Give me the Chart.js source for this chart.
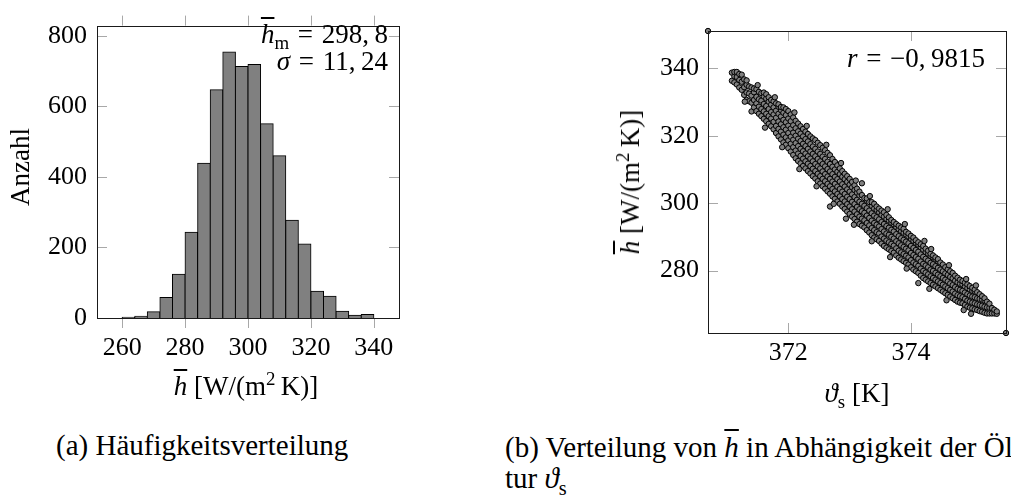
<!DOCTYPE html>
<html>
<head>
<meta charset="utf-8">
<script src="https://cdn.jsdelivr.net/npm/chart.js@4.4.1/dist/chart.umd.min.js"></script>
<style>
html,body{margin:0;padding:0;background:#fff;}
body{width:1011px;height:501px;overflow:hidden;position:relative;font-family:"Liberation Serif","Times New Roman",serif;color:#000;}
canvas{position:absolute;top:0;}
.t{position:absolute;white-space:nowrap;font-size:27px;line-height:30px;}
.an{word-spacing:2px;}
.c{transform:translate(-50%,-50%);}
.r90{transform:translate(-50%,-50%) rotate(-90deg);}
.ov{text-decoration:overline;text-decoration-thickness:1.5px;}
sup,sub{font-size:70%;line-height:0;}
.cap{position:absolute;white-space:nowrap;font-size:29px;line-height:34px;}
</style>
</head>
<body>
<canvas id="c1" width="480" height="410" style="left:0;width:480px;height:410px"></canvas>
<canvas id="c2" width="511" height="410" style="left:500px;width:511px;height:410px"></canvas>

<div class="t r90" style="left:20px;top:167px">Anzahl</div>
<div class="t c" style="left:246px;top:386px"><i class="ov">h</i>&nbsp;[W/(m<sup>2</sup>&thinsp;K)]</div>
<div class="t an" style="right:623px;top:19px"><i class="ov">h</i><sub>m</sub> = 298,&thinsp;8</div>
<div class="t an" style="right:623px;top:46px"><i>σ</i> = 11,&thinsp;24</div>

<div class="t r90" style="left:630px;top:182px"><i class="ov">h</i>&nbsp;[W/(m<sup>2</sup>&thinsp;K)]</div>
<div class="t c" style="left:857px;top:393px"><i>ϑ</i><sub>s</sub>&nbsp;[K]</div>
<div class="t an" style="right:26px;top:43px"><i>r</i> = −0,&thinsp;9815</div>

<div class="cap" style="left:56px;top:428px">(a) Häufigkeitsverteilung</div>
<div class="cap" style="left:505px;top:430px">(b) Verteilung von <i class="ov">h</i> in Abhängigkeit der Öl</div>
<div class="cap" style="left:505px;top:461px">tur <i>ϑ</i><sub>s</sub></div>

<script>
// ---- Histogram data (a) ----
const binCenters = [262,266,270,274,278,282,286,290,294,298,302,306,310,314,318,322,326,330,334,338];
const counts     = [2,5,18,58,124,243,439,647,754,713,719,551,460,277,210,76,62,19,8,10];
const histXTicks = [260,280,300,320,340];
const histYTicks = [0,200,400,600,800];

// ---- Scatter data (b): [theta_s, h values...] read column-wise from the picture ----
const scatterCols = [
[371.08, 336.3, 338.7],
[371.12, 335.8, 337.6, 338.9],
[371.16, 335.2, 337.4, 338.9],
[371.20, 334.3, 336.5, 338.3],
[371.24, 333.6, 336.0, 338.1],
[371.28, 332.1, 334.4, 336.7],
[371.32, 330.6, 332.8, 335.1, 336.4],
[371.36, 330.2, 332.5, 334.6],
[371.40, 327.2, 329.8, 331.9, 334.3],
[371.44, 328.4, 330.6, 332.9, 334.0],
[371.48, 327.3, 329.6, 331.5, 333.8],
[371.52, 326.5, 328.6, 330.8, 333.0],
[371.56, 325.8, 327.9, 330.4, 332.6],
[371.60, 325.0, 327.2, 329.4, 331.6, 332.8],
[371.64, 324.3, 326.5, 328.8, 331.0, 332.3],
[371.68, 323.5, 325.8, 327.9, 330.1, 331.4],
[371.72, 322.8, 325.1, 327.0, 329.2, 330.6],
[371.76, 321.9, 324.1, 326.3, 328.4, 330.2],
[371.80, 320.8, 322.9, 325.3, 327.4, 329.6],
[371.84, 319.8, 322.0, 324.2, 326.5, 328.6, 329.3],
[371.88, 318.9, 321.2, 323.4, 325.7, 327.6, 328.5],
[371.92, 318.0, 320.3, 322.5, 324.7, 326.8, 328.4],
[371.96, 317.3, 319.5, 321.8, 324.0, 326.1, 327.9],
[372.00, 316.3, 318.6, 320.8, 323.0, 325.1, 327.3],
[372.04, 315.3, 317.6, 319.7, 322.1, 324.3, 326.3],
[372.08, 314.3, 316.6, 318.8, 320.9, 323.1, 325.4],
[372.12, 313.3, 315.6, 317.8, 320.0, 322.2, 324.4],
[372.16, 312.5, 314.7, 316.9, 319.1, 321.3, 323.6],
[372.20, 311.8, 314.0, 316.1, 318.4, 320.6, 322.8],
[372.24, 311.0, 313.2, 315.4, 317.6, 319.8, 322.0],
[372.28, 310.3, 312.4, 314.7, 316.9, 319.0, 321.2],
[372.32, 309.5, 311.7, 313.9, 316.1, 318.3, 320.5],
[372.36, 308.8, 311.0, 313.2, 315.3, 317.5, 319.8],
[372.40, 308.0, 310.2, 312.4, 314.6, 316.8, 319.2],
[372.44, 307.3, 309.5, 311.6, 313.9, 316.1, 318.7],
[372.48, 306.5, 308.7, 310.9, 313.1, 315.3, 317.9],
[372.52, 305.8, 308.0, 310.3, 312.4, 314.6, 317.2],
[372.56, 305.0, 307.2, 309.4, 311.6, 313.8, 316.4],
[372.60, 304.3, 306.5, 308.6, 310.9, 313.1, 315.7],
[372.64, 303.5, 305.7, 307.9, 310.1, 312.3, 314.9],
[372.68, 299.0, 302.8, 305.0, 307.2, 309.4, 311.6, 314.2],
[372.72, 302.0, 304.2, 306.4, 308.6, 310.8, 313.1],
[372.76, 301.3, 303.5, 305.7, 307.8, 310.0, 312.2],
[372.80, 300.5, 302.7, 304.9, 307.1, 309.3, 311.2],
[372.84, 299.8, 302.0, 304.2, 306.4, 308.6, 310.3],
[372.88, 299.0, 301.2, 303.4, 305.6, 307.8, 309.5],
[372.92, 298.3, 300.5, 302.7, 304.9, 307.1, 308.7],
[372.96, 297.5, 299.7, 301.9, 304.1, 306.3, 308.0],
[373.00, 296.8, 299.0, 301.2, 303.4, 305.5, 307.2],
[373.04, 296.0, 298.2, 300.4, 302.6, 304.7, 306.3],
[373.08, 295.3, 297.5, 299.7, 301.8, 303.9, 305.3],
[373.12, 294.5, 296.7, 298.9, 301.0, 303.1, 304.3],
[373.16, 293.8, 296.0, 298.2, 300.4, 302.3, 303.4],
[373.20, 293.3, 295.4, 297.6, 299.8, 302.4, 305.9],
[373.24, 292.8, 294.9, 297.1, 299.2, 301.5],
[373.28, 292.0, 294.1, 296.3, 298.5, 300.7, 301.4],
[373.32, 291.3, 293.4, 295.6, 297.8, 300.3],
[373.36, 290.5, 292.6, 294.8, 297.0, 299.2, 300.3],
[373.40, 289.8, 292.0, 294.1, 296.3, 298.4, 299.8],
[373.44, 289.3, 291.4, 293.6, 295.8, 298.0, 299.0],
[373.48, 288.8, 291.0, 293.1, 295.2, 297.3, 298.4],
[373.52, 288.0, 290.1, 292.3, 294.4, 296.5, 297.8],
[373.56, 287.3, 289.5, 291.6, 293.8, 296.0, 297.3],
[373.60, 286.8, 288.9, 291.0, 293.2, 295.3, 296.5],
[373.64, 286.3, 288.4, 290.6, 292.7, 294.8, 295.8],
[373.68, 285.8, 287.9, 290.0, 292.1, 294.2, 295.0],
[373.72, 285.3, 287.4, 289.5, 291.6, 293.7, 294.4],
[373.76, 284.5, 286.6, 288.7, 290.8, 292.9, 293.8],
[373.80, 283.8, 285.9, 288.1, 290.2, 292.3, 293.3],
[373.84, 283.3, 285.4, 287.5, 289.6, 291.7, 292.8],
[373.88, 282.8, 284.9, 287.0, 289.1, 291.2, 292.4],
[373.92, 282.3, 284.4, 286.5, 288.6, 290.7, 291.5],
[373.96, 281.8, 283.9, 286.0, 288.1, 290.1, 291.0],
[374.00, 281.0, 283.1, 285.2, 287.3, 289.4, 290.3],
[374.04, 280.3, 282.4, 284.6, 286.7, 288.8, 289.8],
[374.08, 279.8, 281.9, 284.0, 286.1, 288.2, 289.0],
[374.12, 276.3, 279.3, 281.4, 283.5, 285.6, 287.7, 288.4],
[374.16, 278.5, 280.6, 282.7, 284.8, 286.9, 287.8],
[374.20, 277.8, 279.9, 282.0, 284.1, 286.2, 287.3],
[374.24, 277.3, 279.4, 281.5, 283.5, 285.5, 286.5],
[374.28, 276.8, 278.9, 281.0, 283.0, 285.0, 285.9],
[374.32, 276.3, 278.3, 280.3, 282.3, 284.3, 285.0],
[374.36, 275.8, 277.8, 279.9, 281.9, 283.9, 284.5],
[374.40, 275.3, 277.3, 279.3, 281.3, 283.3, 283.9],
[374.44, 274.8, 276.8, 278.8, 280.8, 282.8, 283.4],
[374.48, 274.3, 276.3, 278.3, 280.3, 282.4],
[374.52, 273.8, 275.8, 277.8, 279.8, 281.8],
[374.56, 273.3, 275.3, 277.3, 279.2, 281.0],
[374.60, 272.8, 274.8, 276.8, 278.7, 280.4],
[374.64, 272.3, 274.3, 276.2, 278.1, 279.8],
[374.68, 271.8, 273.8, 275.7, 277.7, 279.3],
[374.72, 271.3, 273.2, 275.1, 277.0, 278.5],
[374.76, 270.8, 272.7, 274.6, 276.5, 277.9],
[374.80, 270.5, 272.4, 274.3, 276.1, 277.3],
[374.84, 270.3, 272.1, 274.0, 275.9, 276.9],
[374.88, 269.8, 271.6, 273.5, 275.3, 276.4],
[374.92, 269.3, 271.1, 273.0, 274.8, 275.9],
[374.96, 269.0, 270.8, 272.6, 274.4, 275.4],
[375.00, 268.8, 270.5, 272.3, 274.0, 274.9],
[375.04, 268.5, 270.3, 272.1, 273.8, 274.4],
[375.08, 268.3, 270.0, 271.8, 273.6],
[375.12, 268.0, 269.8, 271.6, 273.0],
[375.16, 267.8, 269.6, 271.4, 272.4],
[375.20, 267.5, 269.3, 271.1, 271.8],
[375.24, 267.3, 269.1, 270.8],
[375.28, 267.3, 269.0, 270.2],
[375.32, 267.3, 268.9],
[375.36, 267.3, 268.4],
[375.40, 267.2, 267.9]
];
// scattered points that stick out of the band edges
const edgePts = [
[371.50, 335.0], [371.78, 331.4], [372.10, 326.9], [372.30, 322.9], [372.62, 317.3],
[372.86, 311.9], [373.10, 306.7], [373.33, 302.1], [373.62, 298.2], [373.90, 293.8],
[374.22, 288.8], [374.33, 286.4], [374.62, 281.6], [374.90, 277.5], [375.06, 275.6],
[371.62, 322.4], [371.90, 316.6], [372.18, 310.1], [372.46, 305.0], [372.74, 299.8],
[372.94, 295.4], [373.07, 293.6], [373.36, 288.7], [373.66, 284.0], [373.93, 280.6],
[374.30, 274.6], [374.58, 271.2], [374.86, 268.3], [374.98, 267.2], [371.29, 330.1]
];
const cornerPts = [[370.69, 351.05], [375.55, 261.5]];
const scatXTicks = [372, 374];
const scatYTicks = [280, 300, 320, 340];

const FONT = {family: 'Liberation Serif', size: 26};
const TICK_LEN = 10;

function boxPlugin(xOutside) {
  return {
    id: 'boxTicks',
    beforeDatasetsDraw(chart) {
      const {ctx, chartArea: a, scales: {x, y}} = chart;
      ctx.save();
      ctx.strokeStyle = '#a8a8a8';
      ctx.lineWidth = 1;
      ctx.beginPath();
      x.ticks.forEach(t => {
        const p = Math.round(x.getPixelForValue(t.value)) + 0.5;
        if (xOutside) {
          ctx.moveTo(p, a.bottom); ctx.lineTo(p, a.bottom + TICK_LEN);
          ctx.moveTo(p, a.top); ctx.lineTo(p, a.top - TICK_LEN);
        } else {
          ctx.moveTo(p, a.bottom); ctx.lineTo(p, a.bottom - TICK_LEN);
          ctx.moveTo(p, a.top); ctx.lineTo(p, a.top + TICK_LEN);
        }
      });
      y.ticks.forEach(t => {
        const p = Math.round(y.getPixelForValue(t.value)) + 0.5;
        ctx.moveTo(a.left, p); ctx.lineTo(a.left + TICK_LEN, p);
        ctx.moveTo(a.right, p); ctx.lineTo(a.right - TICK_LEN, p);
      });
      ctx.stroke();
      ctx.restore();
    },
    afterDatasetsDraw(chart) {
      const {ctx, chartArea: a} = chart;
      ctx.save();
      ctx.strokeStyle = '#1a1a1a';
      ctx.lineWidth = 1;
      ctx.strokeRect(Math.round(a.left) + 0.5, Math.round(a.top) + 0.5,
                     Math.round(a.right - a.left), Math.round(a.bottom - a.top));
      ctx.restore();
    }
  };
}

function tickOpts(pad) {
  return {padding: pad, color: '#000', font: {family: FONT.family, size: FONT.size},
          autoSkip: false, maxRotation: 0, callback: v => String(v)};
}
function fixedTicks(values) {
  return function (s) { s.ticks = values.map(v => ({value: v})); };
}

// ---- Chart (a): histogram ----
new Chart(document.getElementById('c1'), {
  type: 'bar',
  data: {
    datasets: [{
      data: binCenters.map((c, i) => ({x: c, y: counts[i]})),
      backgroundColor: '#808080',
      borderColor: '#000',
      borderWidth: 1,
      borderSkipped: 'start',
      barPercentage: 1,
      categoryPercentage: 1,
      inflateAmount: 0.5
    }]
  },
  options: {
    responsive: false, animation: false, devicePixelRatio: 1,
    layout: {padding: {left: 0, top: 15, right: 81, bottom: 0}},
    plugins: {legend: {display: false}, tooltip: {enabled: false}},
    scales: {
      x: {type: 'linear', min: 252, max: 348, offset: false,
          grid: {display: false, drawTicks: false}, border: {display: false},
          ticks: tickOpts(15), afterBuildTicks: fixedTicks(histXTicks),
          afterFit(s) { s.height = 92; }},
      y: {type: 'linear', min: 0, max: 829,
          grid: {display: false, drawTicks: false}, border: {display: false},
          ticks: tickOpts(10), afterBuildTicks: fixedTicks(histYTicks),
          afterFit(s) { s.width = 97; }}
    }
  },
  plugins: [boxPlugin(true)]
});

// ---- Chart (b): scatter ----
const bandPts = [];
scatterCols.forEach(col => {
  for (let k = 1; k < col.length; k++) bandPts.push({x: col[0], y: col[k]});
});
edgePts.forEach(p => bandPts.push({x: p[0], y: p[1]}));
new Chart(document.getElementById('c2'), {
  type: 'scatter',
  data: {
    datasets: [{
      data: bandPts.concat(cornerPts.map(p => ({x: p[0], y: p[1]}))),
      backgroundColor: '#808080',
      borderColor: '#000',
      borderWidth: 1,
      pointRadius: 2.7,
      clip: false
    }]
  },
  options: {
    responsive: false, animation: false, devicePixelRatio: 1,
    layout: {padding: {left: 0, top: 31, right: 1, bottom: 0}},
    plugins: {legend: {display: false}, tooltip: {enabled: false}},
    scales: {
      x: {type: 'linear', min: 370.69, max: 375.55,
          grid: {display: false, drawTicks: false}, border: {display: false},
          ticks: tickOpts(5), afterBuildTicks: fixedTicks(scatXTicks),
          afterFit(s) { s.height = 77; }},
      y: {type: 'linear', min: 261.5, max: 351.05,
          grid: {display: false, drawTicks: false}, border: {display: false},
          ticks: tickOpts(9), afterBuildTicks: fixedTicks(scatYTicks),
          afterFit(s) { s.width = 208; }}
    }
  },
  plugins: [boxPlugin(false)]
});
</script>
</body>
</html>
